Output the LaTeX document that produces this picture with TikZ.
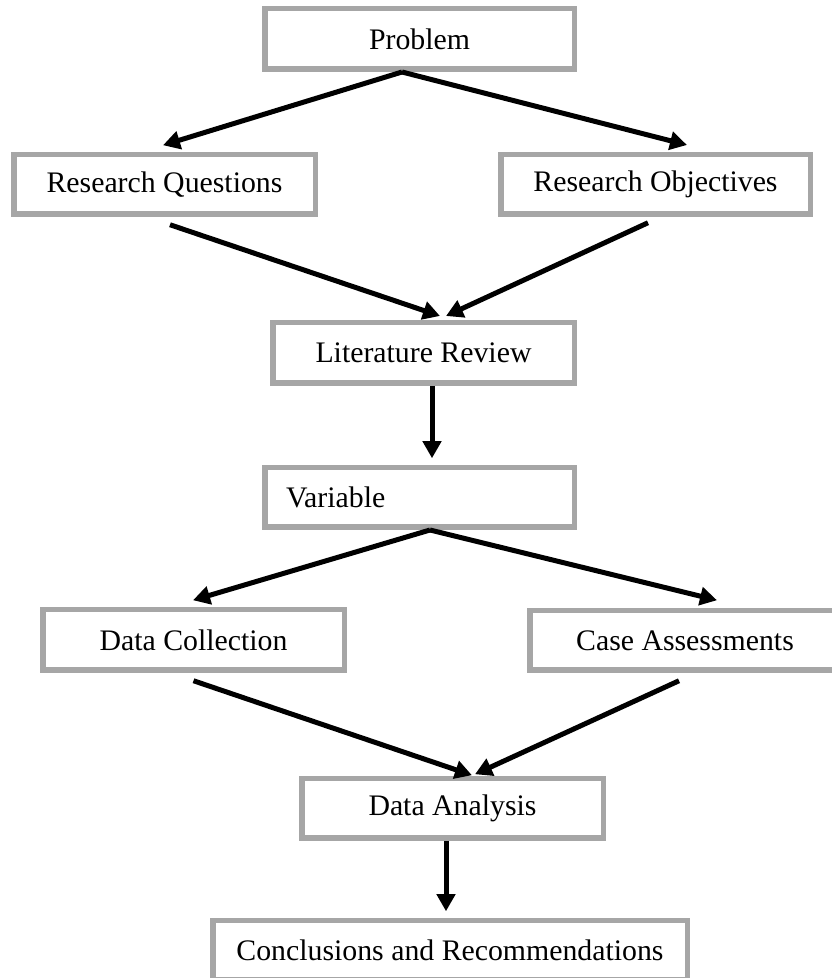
\documentclass[tikz,border=0pt]{standalone}
\usepackage{fontspec}
\setmainfont{Liberation Serif}
\usetikzlibrary{arrows.meta}
\definecolor{boxgray}{HTML}{A6A6A6}
\begin{document}
\begin{tikzpicture}[x=1pt, y=1pt, >={Triangle[length=17pt,width=18pt]}, font=\fontsize{29.8}{34}\selectfont]
      \tikzset{box/.style={draw=boxgray, line width=5.5pt, fill=white, inner sep=0pt, minimum width=301.5pt, minimum height=59.5pt, align=center},
               link/.style={->, line width=5pt}}
      \useasboundingbox (0,0) rectangle (831,978);
      \node[box, minimum width=309.5pt, minimum height=60.5pt] (problem) at (419.5,939) {Problem};
      \node[box] (questions) at (164.5,793.5) {Research Questions};
      \node[box, minimum width=309.5pt] (objectives) at (655.5,793.5) {Research Objectives};
      \node[box, minimum height=60.5pt] (literature) at (423.5,625) {Literature Review};
      \node[box, text width=267pt, inner xsep=21.25pt, align=left] (variable) at (419.5,480.5) {Variable};
      \node[box, minimum height=60.5pt] (collection) at (193.5,338) {Data Collection};
      \node[box, minimum width=310.5pt] (assessments) at (685,337.5) {Case Assessments};
      \node[box] (analysis) at (452.5,169.5) {Data Analysis};
      \node[box, minimum width=474.5pt] (conclusions) at (450,27.5) {Conclusions and Recommendations};
      \draw[link] ([xshift=-17.5pt]problem.south) -- ([xshift=-1.5pt,yshift=6.75pt]questions.north);
      \draw[link] ([xshift=-17.5pt]problem.south) -- ([xshift=31.5pt,yshift=7pt]objectives.north);
      \draw[link] ([xshift=5.5pt,yshift=-7.75pt]questions.south) -- ([xshift=16.5pt,yshift=4pt]literature.north);
      \draw[link] ([xshift=-7.5pt,yshift=-5.75pt]objectives.south) -- ([xshift=22.5pt,yshift=4pt]literature.north);
      \draw[link] ([xshift=8.5pt]literature.south) -- ([xshift=12.5pt,yshift=6.75pt]variable.north);
      \draw[link] ([xshift=10.5pt]variable.south) -- ([xshift=-0.5pt,yshift=6.75pt]collection.north);
      \draw[link] ([xshift=10.5pt]variable.south) -- ([xshift=32pt,yshift=7.75pt]assessments.north);
      \draw[link] ([yshift=-7.75pt]collection.south) -- ([xshift=19.5pt,yshift=0.75pt]analysis.north);
      \draw[link] ([xshift=-6pt,yshift=-7.75pt]assessments.south) -- ([xshift=22.5pt,yshift=1.75pt]analysis.north);
      \draw[link] ([xshift=-6.5pt]analysis.south) -- ([xshift=-4pt,yshift=6.75pt]conclusions.north);
    \end{tikzpicture}
\end{document}
